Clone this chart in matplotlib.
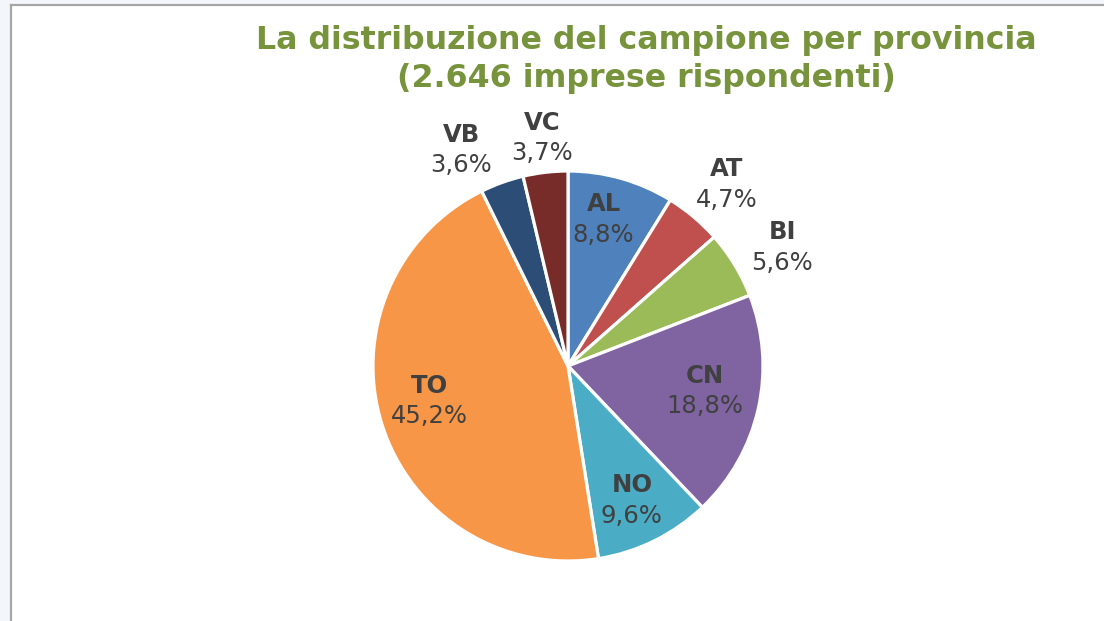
import matplotlib.pyplot as plt
import matplotlib.patches as mpatches
import numpy as np

plt.rcParams['font.family'] = 'DejaVu Sans'

# data
province = ["AL", "AT", "BI", "CN", "NO", "TO", "VB", "VC"]
quota = [8.8, 4.7, 5.6, 18.8, 9.6, 45.2, 3.6, 3.7]
colori = ["#4F81BD", "#C0504D", "#9BBB59", "#8064A2",
          "#4BACC6", "#F79646", "#2C4D75", "#772C2A"]
# label placement (Excel "best fit"): radial distance in radii and angular nudge in degrees
dist_label = [0.77, 1.23, 1.25, 0.71, 0.76, 0.73, 1.23, 1.17]
nudge = [2.2, -1.0, -2.4, 2.2, -0.9, -3.5, 6.5, -0.1]

W, H = 1104, 621
fig = plt.figure(figsize=(W / 100, H / 100), dpi=100)
fig.patch.set_facecolor("#F3F7FB")

# white panel with grey frame (left and top)
fig.patches.append(mpatches.Rectangle((11 / W, 0), 1, (H - 5) / H,
                                      transform=fig.transFigure,
                                      facecolor="white", edgecolor="none", zorder=-2))
fig.add_artist(plt.Line2D([11 / W, 11 / W], [0, (H - 5) / H], transform=fig.transFigure,
                          color="#A6A6A6", lw=1.6, zorder=-1))
fig.add_artist(plt.Line2D([11 / W, 1], [(H - 5) / H, (H - 5) / H], transform=fig.transFigure,
                          color="#A6A6A6", lw=1.6, zorder=-1))

cx, cy, R = 568, 366, 195   # pixel centre / radius
L = 250
ax = fig.add_axes([(cx - L) / W, (H - cy - L) / H, 2 * L / W, 2 * L / H])

wedges, _ = ax.pie(quota, colors=colori, startangle=90, counterclock=False,
                   radius=1, wedgeprops=dict(edgecolor="white", linewidth=2.3))
ax.set_xlim(-L / R, L / R)
ax.set_ylim(-L / R, L / R)
ax.set_aspect("equal")
ax.axis("off")

for w, nome, q, d, dn in zip(wedges, province, quota, dist_label, nudge):
    ang = np.deg2rad((w.theta1 + w.theta2) / 2 + dn)
    x, y = d * 196 / R * np.cos(ang), d * 196 / R * np.sin(ang)
    ax.annotate(nome, (x, y), xytext=(0, 11), textcoords="offset points",
                ha="center", va="center", fontsize=17.5, fontweight="bold",
                color="#404040")
    pct = ("%.1f%%" % q).replace(".", ",")
    ax.annotate(pct, (x, y), xytext=(0, -11), textcoords="offset points",
                ha="center", va="center", fontsize=17.5, color="#404040")

fig.text(646 / W, 1 - 40 / H, "La distribuzione del campione per provincia",
         ha="center", va="center", fontsize=22.8, fontweight="bold", color="#77933C")
fig.text(646 / W, 1 - 78 / H, "(2.646 imprese rispondenti)",
         ha="center", va="center", fontsize=22.8, fontweight="bold", color="#77933C")

fig.savefig("out.png", dpi=100)
